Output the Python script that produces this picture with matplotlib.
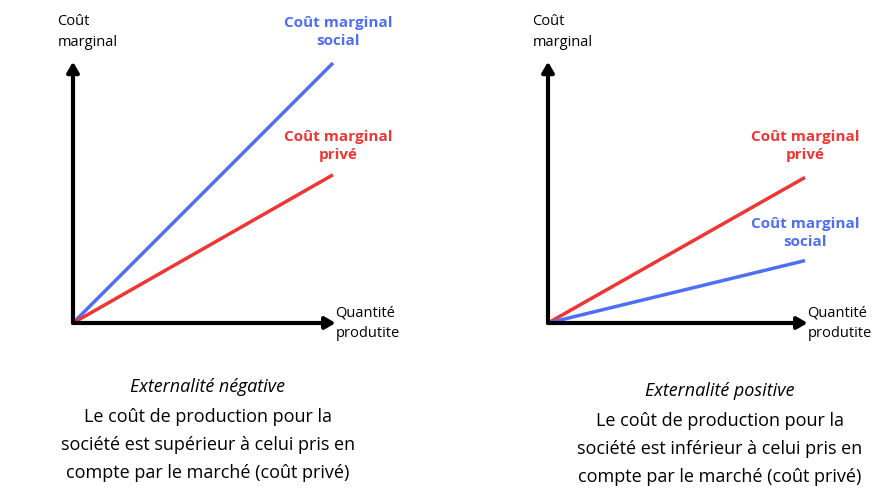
import matplotlib.pyplot as plt

plt.rcParams['font.family'] = 'Open Sans'

W, H = 889, 497
BLUE = '#4f6ef7'
RED = '#f03535'

# quantity / cost endpoints of each curve (axis units 0..10)
q = [0, 10]
neg_social = [0, 10.0]
neg_private = [0, 5.7]
pos_private = [0, 5.6]
pos_social = [0, 2.4]


fig = plt.figure(figsize=(W / 100, H / 100), dpi=100)


def panel(x0, x1, y0, y1, curves, labels):
    ax = fig.add_axes([x0 / W, 1 - y0 / H, (x1 - x0) / W, (y0 - y1) / H])
    ax.set_xlim(0, 10)
    ax.set_ylim(0, 10)
    ax.axis('off')
    for ys, c in curves:
        ax.plot(q, ys, color=c, lw=2.5, clip_on=False, solid_capstyle='butt')
    ap = dict(arrowstyle='-|>,head_width=0.35,head_length=0.6', lw=3, color='black',
              shrinkA=0, shrinkB=0)
    ax.annotate('', xy=(10.1, 0), xytext=(0, 0), arrowprops=ap, annotation_clip=False)
    ax.annotate('', xy=(0, 10.05), xytext=(0, 0), arrowprops=ap, annotation_clip=False)
    for (lx, ly, txt, c) in labels:
        ax.text(lx, ly, txt, color=c, fontsize=11, fontweight='bold', ha='center',
                va='center', linespacing=1.4)
    ax.text(-0.6, 11.2, 'Coût\nmarginal', fontsize=10.5, ha='left', va='center',
            linespacing=1.5)
    ax.text(0.2, 0, 'Quantité\nproduitite'.replace('produitite', 'produtite'),
            fontsize=10.5, ha='left', va='center', linespacing=1.5,
            transform=ax.transData) if False else None
    ax.text(10.1, 0, 'Quantité\nproduite' if False else 'Quantité\nprodutite'.replace('produtite', 'produtite'),
            fontsize=10.5, ha='left', va='center', linespacing=1.5)
    return ax


def caption(cx, y, title, body):
    fig.text(cx / W, 1 - y / H, title, fontsize=13, style='italic', ha='center', va='center')
    fig.text(cx / W, 1 - (y + 58) / H, body, fontsize=13, ha='center', va='center',
             linespacing=1.75)


panel(73, 333, 323, 63,
      [(neg_social, BLUE), (neg_private, RED)],
      [(10.2, 11.2, 'Coût marginal\nsocial', BLUE), (10.2, 6.8, 'Coût marginal\nprivé', RED)])
panel(548, 805, 323, 63,
      [(pos_private, RED), (pos_social, BLUE)],
      [(10.0, 6.8, 'Coût marginal\nprivé', RED), (10.0, 3.45, 'Coût marginal\nsocial', BLUE)])

caption(208, 387, 'Externalité négative',
        'Le coût de production pour la\nsociété est supérieur à celui pris en\ncompte par le marché (coût privé)')
caption(720, 391, 'Externalité positive',
        'Le coût de production pour la\nsociété est inférieur à celui pris en\ncompte par le marché (coût privé)')

fig.savefig('out.png', dpi=100)
